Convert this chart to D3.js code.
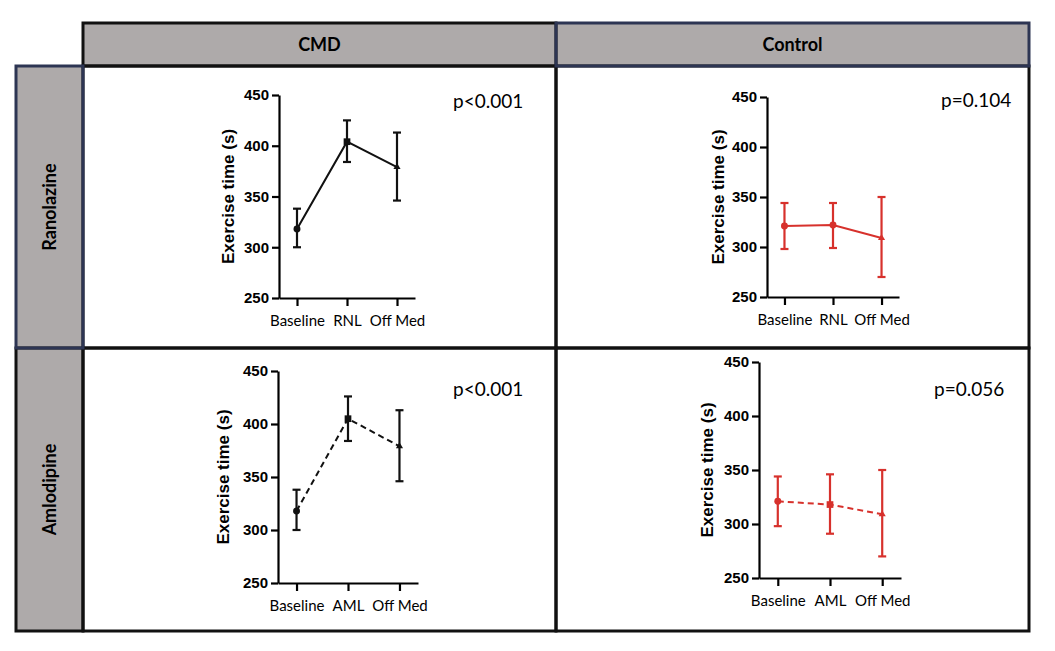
<!DOCTYPE html>
<html>
<head>
<meta charset="utf-8">
<script src="https://cdn.jsdelivr.net/npm/d3@7"></script>
<style>
  body { margin: 0; background: #fff; }
  svg { display: block; }
</style>
</head>
<body>
<div id="container"></div>
<script>
var width = 1055,
    height = 651;

// data
var colHeaders = ["CMD", "Control"];
var rowHeaders = ["Ranolazine", "Amlodipine"];
var yTicks = [250, 300, 350, 400, 450];
var catsRNL = ["Baseline", "RNL", "Off Med"];
var catsAML = ["Baseline", "AML", "Off Med"];

var cmdRnlMean = [318, 404, 379];
var cmdRnlLow  = [300, 384, 346];
var cmdRnlHigh = [338, 425, 413];

var ctlRnlMean = [321, 322, 309];
var ctlRnlLow  = [298, 299, 270];
var ctlRnlHigh = [344, 344, 350];

var cmdAmlMean = [318, 405, 379];
var cmdAmlLow  = [300, 384, 346];
var cmdAmlHigh = [338, 426, 413];

var ctlAmlMean = [321, 318, 309];
var ctlAmlLow  = [298, 291, 270];
var ctlAmlHigh = [344, 346, 350];

var pValues = ["p<0.001", "p=0.104", "p<0.001", "p=0.056"];

var black = "#111", red = "#d7312c", navy = "#2d3553", headFill = "#aeaaaa";

var svg = d3.select("#container")
    .append("svg")
    .attr("width", width)
    .attr("height", height);

// table frame
var tx0 = 83, tx1 = 1029, txm = 556,
    ty0 = 23, ty1 = 66, tym = 348, ty2 = 631,
    lx0 = 16;

// header fills
svg.append("rect").attr("x", tx0).attr("y", ty0).attr("width", tx1 - tx0).attr("height", ty1 - ty0).attr("fill", headFill);
svg.append("rect").attr("x", lx0).attr("y", ty1).attr("width", tx0 - lx0).attr("height", ty2 - ty1).attr("fill", headFill);

// grid lines
function rectLine(x0, y0, x1, y1, color) {
  svg.append("rect")
     .attr("x", x0).attr("y", y0)
     .attr("width", x1 - x0).attr("height", y1 - y0)
     .attr("fill", "none")
     .attr("stroke", color)
     .attr("stroke-width", 3);
}
rectLine(tx0, ty1, txm, tym, black);
rectLine(txm, ty1, tx1, tym, black);
rectLine(tx0, tym, txm, ty2, black);
rectLine(txm, tym, tx1, ty2, black);
rectLine(lx0, tym, tx0, ty2, black);
rectLine(tx0, ty0, txm, ty1, black);
rectLine(lx0, ty1, tx0, tym, navy);
rectLine(txm, ty0, tx1, ty1, navy);

// header texts
svg.selectAll(".colhead")
   .data(colHeaders)
   .enter().append("text")
   .attr("x", function(d, i) { return i === 0 ? (tx0 + txm) / 2 : (txm + tx1) / 2; })
   .attr("y", 51)
   .attr("text-anchor", "middle")
   .attr("font-family", "Lato, sans-serif")
   .attr("font-weight", "bold")
   .attr("font-size", 18)
   .attr("fill", "#000")
   .text(function(d) { return d; });

svg.selectAll(".rowhead")
   .data(rowHeaders)
   .enter().append("text")
   .attr("transform", function(d, i) {
      var cy = i === 0 ? (ty1 + tym) / 2 : (tym + ty2) / 2;
      return "translate(56," + cy + ") rotate(-90)";
   })
   .attr("text-anchor", "middle")
   .attr("font-family", "Lato, sans-serif")
   .attr("font-weight", "bold")
   .attr("font-size", 18)
   .attr("fill", "#000")
   .text(function(d) { return d; });

// panels: plot area placement only
var panels = [
  { cats: catsRNL, mean: cmdRnlMean, low: cmdRnlLow, high: cmdRnlHigh, color: black, dash: null,
    left: 279, right: 415, top: 95, bottom: 298, labelX: 228, pX: 453, pY: 108, p: pValues[0],
    marks: ["circle", "square", "triangle"] },
  { cats: catsRNL, mean: ctlRnlMean, low: ctlRnlLow, high: ctlRnlHigh, color: red, dash: null,
    left: 767, right: 899, top: 97, bottom: 297, labelX: 718, pX: 941, pY: 107, p: pValues[1],
    marks: ["circle", "circle", "triangle"] },
  { cats: catsAML, mean: cmdAmlMean, low: cmdAmlLow, high: cmdAmlHigh, color: black, dash: "6,4",
    left: 278, right: 418, top: 371, bottom: 583, labelX: 223, pX: 453, pY: 396, p: pValues[2],
    marks: ["circle", "square", "triangle"] },
  { cats: catsAML, mean: ctlAmlMean, low: ctlAmlLow, high: ctlAmlHigh, color: red, dash: "6,4",
    left: 759, right: 901, top: 362, bottom: 578, labelX: 707, pX: 934, pY: 396, p: pValues[3],
    marks: ["circle", "square", "triangle"] }
];

panels.forEach(function(p) {
  var g = svg.append("g");

  var scale_x = d3.scalePoint()
      .domain(p.cats)
      .range([p.left, p.right])
      .padding(0.36);

  var scale_y = d3.scaleLinear()
      .domain([250, 450])
      .range([p.bottom, p.top]);

  // axes
  var yAxis = g.append("g")
      .attr("transform", "translate(" + p.left + ",0)")
      .call(d3.axisLeft(scale_y).tickValues(yTicks).tickSize(7).tickSizeOuter(0).tickPadding(3));
  yAxis.select(".domain").attr("stroke", "#000").attr("stroke-width", 2.2);
  yAxis.selectAll(".tick line").attr("stroke", "#000").attr("stroke-width", 2.2);
  yAxis.selectAll(".tick text")
      .attr("font-family", "'Liberation Sans', Arial, sans-serif")
      .attr("font-weight", "bold")
      .attr("font-size", 15)
      .attr("fill", "#000");

  var xAxis = g.append("g")
      .attr("transform", "translate(0," + p.bottom + ")")
      .call(d3.axisBottom(scale_x).tickSize(8).tickSizeOuter(0).tickPadding(9));
  xAxis.select(".domain").attr("stroke", "#000").attr("stroke-width", 2.2);
  xAxis.selectAll(".tick line").attr("stroke", "#000").attr("stroke-width", 2.2);
  xAxis.selectAll(".tick text")
      .attr("font-family", "Lato, sans-serif")
      .attr("font-size", 15)
      .attr("fill", "#000");

  // y label
  g.append("text")
      .attr("transform", "translate(" + p.labelX + "," + (p.top + p.bottom) / 2 + ") rotate(-90)")
      .attr("text-anchor", "middle")
      .attr("dy", "0.35em")
      .attr("font-family", "'Liberation Sans', Arial, sans-serif")
      .attr("font-weight", "bold")
      .attr("font-size", 17)
      .attr("fill", "#000")
      .text("Exercise time (s)");

  // line
  var line_generator = d3.line()
      .x(function(d, i) { return scale_x(p.cats[i]); })
      .y(function(d) { return scale_y(d); });

  g.append("path")
      .attr("d", line_generator(p.mean))
      .attr("fill", "none")
      .attr("stroke", p.color)
      .attr("stroke-width", 2)
      .attr("stroke-dasharray", p.dash);

  // error bars
  var eb = g.selectAll(".eb")
      .data(p.mean)
      .enter().append("g");

  eb.append("line")
      .attr("x1", function(d, i) { return scale_x(p.cats[i]); })
      .attr("x2", function(d, i) { return scale_x(p.cats[i]); })
      .attr("y1", function(d, i) { return scale_y(p.low[i]); })
      .attr("y2", function(d, i) { return scale_y(p.high[i]); })
      .attr("stroke", p.color)
      .attr("stroke-width", 2.2);

  ["low", "high"].forEach(function(k) {
    eb.append("line")
        .attr("x1", function(d, i) { return scale_x(p.cats[i]) - 4; })
        .attr("x2", function(d, i) { return scale_x(p.cats[i]) + 4; })
        .attr("y1", function(d, i) { return scale_y(p[k][i]); })
        .attr("y2", function(d, i) { return scale_y(p[k][i]); })
        .attr("stroke", p.color)
        .attr("stroke-width", 2.2);
  });

  // markers
  var symbols = { circle: d3.symbolCircle, square: d3.symbolSquare, triangle: d3.symbolTriangle };
  var sizes = { circle: 38, square: 45, triangle: 22 };
  eb.append("path")
      .attr("transform", function(d, i) { return "translate(" + scale_x(p.cats[i]) + "," + scale_y(d) + ")"; })
      .attr("d", function(d, i) { var m = p.marks[i]; return d3.symbol().type(symbols[m]).size(sizes[m])(); })
      .attr("fill", p.color);

  // p value
  g.append("text")
      .attr("x", p.pX)
      .attr("y", p.pY)
      .attr("font-family", "Lato, sans-serif")
      .attr("font-size", 19)
      .attr("fill", "#000")
      .text(p.p);
});
</script>
</body>
</html>
